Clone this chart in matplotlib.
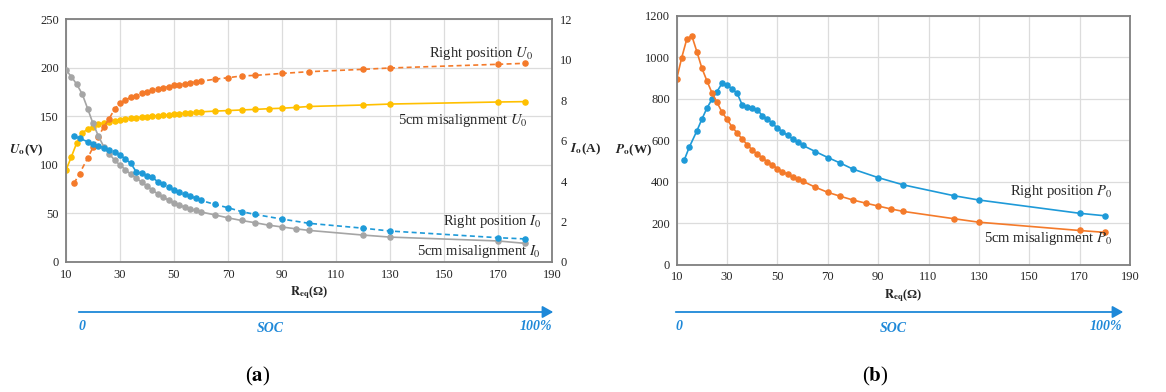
import numpy as np
import matplotlib.pyplot as plt

plt.rcParams['font.family'] = ['Liberation Serif', 'DejaVu Serif']
plt.rcParams['mathtext.fontset'] = 'stix'

# load resistance R_eq (ohm)
r_5cm = [10, 12, 14, 16, 18, 20, 22, 24, 26, 28, 30, 32, 34, 36, 38, 40, 42, 44, 46, 48,
         50, 52, 54, 56, 58, 60, 65, 70, 75, 80, 85, 90, 95, 100, 120, 130, 170, 180]
r_right = [13, 15, 18, 20, 22, 24, 26, 28, 30, 32, 34, 36, 38, 40, 42, 44, 46, 48, 50, 52,
           54, 56, 58, 60, 65, 70, 75, 80, 90, 100, 120, 130, 170, 180]

# (a) output voltage (V) and current (A)
u_5cm = [94.6, 108.3, 122.7, 133, 136.5, 139.2, 141.6, 143.3, 144.3, 145.4, 146, 147, 147.8,
         148.5, 148.9, 149.5, 150, 150.5, 151, 151.3, 152, 152.6, 153, 153.5, 154, 154.5,
         155.2, 155.8, 156.4, 157, 157.7, 158.2, 159, 160, 161.5, 162.5, 164.6, 165]
i_5cm = [9.48, 9.15, 8.77, 8.30, 7.58, 6.84, 6.22, 5.69, 5.33, 5.04, 4.78, 4.56, 4.33, 4.14,
         3.95, 3.75, 3.55, 3.36, 3.19, 3.06, 2.93, 2.81, 2.70, 2.62, 2.55, 2.47,
         2.33, 2.18, 2.05, 1.94, 1.82, 1.73, 1.64, 1.56, 1.33, 1.23, 1.04, 0.92]
u_right = [81, 91, 106.7, 118, 129, 139, 147.5, 157.4, 163.3, 166.7, 169.4, 171, 173.5, 175,
           177, 178, 179.3, 180.4, 181.8, 182.4, 183.4, 184.2, 185.2, 186,
           188, 189.6, 191.4, 192, 194, 195.8, 198.2, 199.6, 203.4, 204.4]
i_right = [6.22, 6.11, 5.94, 5.83, 5.75, 5.62, 5.53, 5.45, 5.28, 5.09, 4.87, 4.46, 4.38, 4.26,
           4.18, 3.96, 3.84, 3.69, 3.55, 3.44, 3.34, 3.24, 3.16, 3.04,
           2.85, 2.68, 2.49, 2.35, 2.12, 1.91, 1.67, 1.53, 1.20, 1.14]

# (b) output power (W)
p_right = [504, 566, 644, 701, 754, 797, 834, 874, 866, 847, 826, 770, 762, 754, 746, 718, 701,
           681, 657, 641, 623, 606, 591, 575, 545, 516, 489, 460, 419, 384, 332, 311, 247, 235]
p_5cm = [895, 998, 1087, 1103, 1027, 947, 886, 828, 782, 735, 700, 663, 635, 605, 578, 552, 532,
         515, 495, 480, 463, 448, 435, 422, 411, 402, 373, 348, 329, 311, 296, 282, 268, 256,
         221, 204, 164, 155]

x_ticks = list(range(10, 191, 20))

ORANGE = '#F47A2A'
YELLOW = '#FFC000'
BLUE = '#1E9AD8'
GRAY = '#A5A5A5'
SOC_BLUE = '#1E88D8'
TXT = '#262626'

W, H = 1166, 392
fig = plt.figure(figsize=(W / 100, H / 100), dpi=100)


def style_axes(ax):
    ax.set_xlim(10, 190)
    ax.set_xticks(x_ticks)
    ax.grid(True, color='#DCDCDC', linewidth=0.9)
    ax.set_axisbelow(True)
    for s in ax.spines.values():
        s.set_color('#7F7F7F')
        s.set_linewidth(1.3)
    ax.tick_params(length=0, labelsize=9, colors=TXT, pad=5)


mk = dict(marker='o', markersize=3.7, linewidth=1.2)

# ---------- (a) ----------
ax1 = fig.add_axes([66 / W, 1 - 262 / H, 486 / W, 243 / H])
style_axes(ax1)
ax1.set_ylim(0, 250)
ax1.set_yticks(range(0, 251, 50))
ax2 = ax1.twinx()
ax2.set_ylim(0, 12)
ax2.set_yticks(range(0, 13, 2))
ax2.tick_params(length=0, labelsize=9, colors=TXT, pad=6)
for s in ax2.spines.values():
    s.set_visible(False)

ax2.plot(r_5cm, i_5cm, color=GRAY, **mk)
ax2.plot(r_right, i_right, color=BLUE, linestyle=(0, (3, 2)), **mk)
ax1.plot(r_5cm, u_5cm, color=YELLOW, **mk)
ax1.plot(r_right, u_right, color=ORANGE, linestyle=(0, (3, 2)), **mk)

lab = dict(fontsize=10.5, color=TXT, ha='right', va='center')
ax1.text(183, 215, r'Right position $\mathit{U}_{\mathit{0}}$', **lab)
ax1.text(181, 146, r'5cm misalignment $\mathit{U}_{\mathit{0}}$', **lab)
ax1.text(186, 41.5, r'Right position $\mathit{I}_{\mathit{0}}$', **lab)
ax1.text(186, 10.5, r'5cm misalignment $\mathit{I}_{\mathit{0}}$', **lab)

fig.text(26 / W, 1 - 150 / H, r'$\mathbfit{U}_{\mathbf{o}}$(V)', fontsize=9.5,
         fontweight='bold', ha='center', va='center', color=TXT)
fig.text(585 / W, 1 - 149 / H, r'$\mathbfit{I}_{\mathbf{o}}$(A)', fontsize=9.5,
         fontweight='bold', ha='center', va='center', color=TXT)
fig.text(309 / W, 1 - 293 / H, r'$\mathbf{R}_{\mathbf{eq}}$(Ω)', fontsize=9,
         fontweight='bold', ha='center', va='center', color=TXT)

# ---------- (b) ----------
ax3 = fig.add_axes([676.7 / W, 1 - 264.5 / H, 453.3 / W, 248.8 / H])
style_axes(ax3)
ax3.set_ylim(0, 1200)
ax3.set_yticks(range(0, 1201, 200))
ax3.plot(r_right, p_right, color=BLUE, **mk)
ax3.plot(r_5cm, p_5cm, color=ORANGE, **mk)
ax3.text(183, 351, r'Right position $\mathit{P}_{\mathit{0}}$', **lab)
ax3.text(183, 125, r'5cm misalignment $\mathit{P}_{\mathit{0}}$', **lab)

fig.text(634 / W, 1 - 150 / H, r'$\mathbfit{P}_{\mathbf{o}}$(W)', fontsize=9.5,
         fontweight='bold', ha='center', va='center', color=TXT)
fig.text(903 / W, 1 - 296 / H, r'$\mathbf{R}_{\mathbf{eq}}$(Ω)', fontsize=9,
         fontweight='bold', ha='center', va='center', color=TXT)

# ---------- SOC arrows ----------
soc = dict(fontsize=10, color=SOC_BLUE, fontweight='bold', fontstyle='italic', va='center')
for x0, x1, xs in [(76, 556, 270), (673, 1126, 893)]:
    fig.add_artist(plt.matplotlib.patches.FancyArrowPatch(
        (x0 / W, 1 - 312 / H), (x1 / W, 1 - 312 / H), transform=fig.transFigure,
        arrowstyle='-|>,head_length=3.2,head_width=1.8', mutation_scale=2,
        color=SOC_BLUE, linewidth=1.3))
    fig.text((x0 + 6) / W, 1 - 327 / H, '0', ha='center', **soc)
    fig.text(xs / W, 1 - 328 / H, 'SOC', ha='center', **soc)
    fig.text((x1 - 4) / W, 1 - 327 / H, '100%', ha='right', **soc)

fig.text(258 / W, 1 - 376 / H, r'($\mathbf{a}$)', fontsize=15, ha='center', va='center', color='black')
fig.text(875 / W, 1 - 376 / H, r'($\mathbf{b}$)', fontsize=15, ha='center', va='center', color='black')

fig.savefig('out.png', dpi=100)
